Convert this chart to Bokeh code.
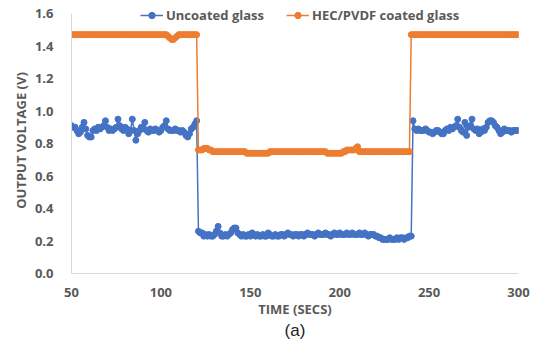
from bokeh.plotting import figure
from bokeh.embed import file_html
from bokeh.resources import INLINE
from bokeh.models import (ColumnDataSource, Legend, LegendItem, Title,
                          PrintfTickFormatter, FixedTicker)

# ---- data (time in seconds, 1 s resolution) ----
time_s = list(range(50, 301))

uncoated = [
    # 50-120
    0.91, 0.90, 0.90, 0.88, 0.86, 0.87, 0.90, 0.93, 0.89, 0.85,
    0.84, 0.84, 0.88, 0.89, 0.88, 0.90, 0.89, 0.90, 0.91, 0.94,
    0.90, 0.88, 0.89, 0.88, 0.89, 0.90, 0.95, 0.91, 0.89, 0.88,
    0.90, 0.89, 0.86, 0.88, 0.95, 0.88, 0.82, 0.86, 0.88, 0.90,
    0.89, 0.93, 0.88, 0.87, 0.89, 0.88, 0.88, 0.89, 0.88, 0.87,
    0.88, 0.90, 0.91, 0.94, 0.89, 0.88, 0.88, 0.88, 0.89, 0.88,
    0.88, 0.87, 0.88, 0.87, 0.85, 0.84, 0.86, 0.89, 0.90, 0.92,
    0.94,
    # 121-240
    0.26, 0.25, 0.25, 0.23, 0.24, 0.23, 0.24, 0.23, 0.23, 0.24,
    0.26, 0.29, 0.25, 0.23, 0.23, 0.24, 0.23, 0.24, 0.25, 0.27,
    0.28, 0.28, 0.25, 0.24, 0.23, 0.24, 0.23, 0.23, 0.24, 0.23,
    0.25, 0.24, 0.23, 0.24, 0.23, 0.23, 0.24, 0.23, 0.23, 0.25,
    0.24, 0.23, 0.23, 0.24, 0.23, 0.23, 0.24, 0.24, 0.23, 0.24,
    0.25, 0.24, 0.24, 0.23, 0.24, 0.24, 0.23, 0.24, 0.24, 0.23,
    0.24, 0.25, 0.24, 0.24, 0.24, 0.23, 0.24, 0.25, 0.24, 0.24,
    0.24, 0.25, 0.24, 0.24, 0.23, 0.24, 0.25, 0.24, 0.24, 0.25,
    0.24, 0.24, 0.24, 0.25, 0.24, 0.24, 0.25, 0.24, 0.24, 0.24,
    0.25, 0.24, 0.24, 0.25, 0.24, 0.23, 0.24, 0.24, 0.24, 0.23,
    0.23, 0.22, 0.22, 0.21, 0.21, 0.21, 0.21, 0.22, 0.21, 0.21,
    0.21, 0.22, 0.21, 0.22, 0.22, 0.21, 0.22, 0.22, 0.23, 0.23,
    # 241-300
    0.94, 0.89, 0.88, 0.89, 0.88, 0.88, 0.88, 0.89, 0.88, 0.87,
    0.87, 0.86, 0.87, 0.88, 0.88, 0.87, 0.86, 0.86, 0.88, 0.89,
    0.88, 0.90, 0.89, 0.90, 0.91, 0.95, 0.90, 0.88, 0.87, 0.93,
    0.85, 0.90, 0.91, 0.95, 0.89, 0.88, 0.89, 0.86, 0.87, 0.89,
    0.88, 0.90, 0.93, 0.94, 0.94, 0.93, 0.91, 0.90, 0.88, 0.86,
    0.87, 0.89, 0.88, 0.88, 0.88, 0.87, 0.88, 0.88, 0.88, 0.88,
]

coated = [
    # 50-120
    1.47, 1.47, 1.47, 1.47, 1.47, 1.47, 1.47, 1.47, 1.47, 1.47,
    1.47, 1.47, 1.47, 1.47, 1.47, 1.47, 1.47, 1.47, 1.47, 1.47,
    1.47, 1.47, 1.47, 1.47, 1.47, 1.47, 1.47, 1.47, 1.47, 1.47,
    1.47, 1.47, 1.47, 1.47, 1.47, 1.47, 1.47, 1.47, 1.47, 1.47,
    1.47, 1.47, 1.47, 1.47, 1.47, 1.47, 1.47, 1.47, 1.47, 1.47,
    1.47, 1.47, 1.47, 1.47, 1.46, 1.45, 1.44, 1.44, 1.45, 1.46,
    1.47, 1.47, 1.47, 1.47, 1.47, 1.47, 1.47, 1.47, 1.47, 1.47,
    1.47,
    # 121-239
    0.76, 0.76, 0.76, 0.77, 0.77, 0.77, 0.76, 0.76, 0.75, 0.75,
    0.75, 0.75, 0.75, 0.75, 0.75, 0.75, 0.75, 0.75, 0.75, 0.75,
    0.75, 0.75, 0.75, 0.75, 0.75, 0.75, 0.75, 0.74, 0.74, 0.74,
    0.74, 0.74, 0.74, 0.74, 0.74, 0.74, 0.74, 0.74, 0.74, 0.74,
    0.75, 0.75, 0.75, 0.75, 0.75, 0.75, 0.75, 0.75, 0.75, 0.75,
    0.75, 0.75, 0.75, 0.75, 0.75, 0.75, 0.75, 0.75, 0.75, 0.75,
    0.75, 0.75, 0.75, 0.75, 0.75, 0.75, 0.75, 0.75, 0.75, 0.75,
    0.75, 0.75, 0.74, 0.74, 0.74, 0.74, 0.74, 0.74, 0.74, 0.74,
    0.74, 0.75, 0.75, 0.76, 0.76, 0.76, 0.76, 0.76, 0.77, 0.78,
    0.75, 0.75, 0.75, 0.75, 0.75, 0.75, 0.75, 0.75, 0.75, 0.75,
    0.75, 0.75, 0.75, 0.75, 0.75, 0.75, 0.75, 0.75, 0.75, 0.75,
    0.75, 0.75, 0.75, 0.75, 0.75, 0.75, 0.75, 0.75, 0.75,
    # 240-300
    1.47, 1.47, 1.47, 1.47, 1.47, 1.47, 1.47, 1.47, 1.47, 1.47,
    1.47, 1.47, 1.47, 1.47, 1.47, 1.47, 1.47, 1.47, 1.47, 1.47,
    1.47, 1.47, 1.47, 1.47, 1.47, 1.47, 1.47, 1.47, 1.47, 1.47,
    1.47, 1.47, 1.47, 1.47, 1.47, 1.47, 1.47, 1.47, 1.47, 1.47,
    1.47, 1.47, 1.47, 1.47, 1.47, 1.47, 1.47, 1.47, 1.47, 1.47,
    1.47, 1.47, 1.47, 1.47, 1.47, 1.47, 1.47, 1.47, 1.47, 1.47,
    1.47,
]

series_names = ["Uncoated glass", "HEC/PVDF coated glass"]
x_ticks = [50, 100, 150, 200, 250, 300]
y_ticks = [0.0, 0.2, 0.4, 0.6, 0.8, 1.0, 1.2, 1.4, 1.6]
caption = "(a)"

BLUE = "#4472C4"
ORANGE = "#ED7D31"
GREY = "#595959"
FONT = "Open Sans"

src = ColumnDataSource(dict(t=time_s, u=uncoated, c=coated))

# frame extends a few pixels above 1.6 so the legend can sit at the top;
# the y axis line itself is bounded to 0..1.6
p = figure(width=538, height=347, x_range=(50, 300), y_range=(0, 1.637),
           output_backend="svg", toolbar_location=None,
           min_border_left=71, min_border_right=20, min_border_top=7,
           min_border_bottom=74, outline_line_color=None,
           background_fill_color="white", border_fill_color="white")

p.xgrid.visible = False
p.ygrid.visible = False

l1 = p.line("t", "u", source=src, line_color=BLUE, line_width=1.5)
s1 = p.scatter("t", "u", source=src, marker="circle", size=6,
               fill_color=BLUE, line_color=BLUE)
l2 = p.line("t", "c", source=src, line_color=ORANGE, line_width=1.5)
s2 = p.scatter("t", "c", source=src, marker="circle", size=6,
               fill_color=ORANGE, line_color=ORANGE)

for ax in (p.xaxis[0], p.yaxis[0]):
    ax.axis_line_color = "#D9D9D9"
    ax.axis_line_width = 1
    ax.major_tick_line_color = None
    ax.minor_tick_line_color = None
    ax.major_label_text_font = FONT
    ax.major_label_text_font_style = "bold"
    ax.major_label_text_font_size = "13px"
    ax.major_label_text_color = GREY
    ax.axis_label_text_font = FONT
    ax.axis_label_text_font_style = "bold"
    ax.axis_label_text_font_size = "13px"
    ax.axis_label_text_color = GREY

p.yaxis.bounds = (0, 1.6)
p.xaxis.ticker = FixedTicker(ticks=x_ticks)
p.yaxis.ticker = FixedTicker(ticks=y_ticks)
p.yaxis.formatter = PrintfTickFormatter(format="%.1f")
p.xaxis.axis_label = "TIME (SECS)"
p.yaxis.axis_label = "OUTPUT VOLTAGE (V)"
p.xaxis.major_label_standoff = 8
p.yaxis.major_label_standoff = 12
p.xaxis.axis_label_standoff = 0
p.yaxis.axis_label_standoff = 2

legend = Legend(items=[LegendItem(label=series_names[0], renderers=[l1, s1]),
                       LegendItem(label=series_names[1], renderers=[l2, s2])],
                orientation="horizontal", location=(69, 249),
                padding=0, margin=0, spacing=22, label_standoff=3,
                glyph_width=23, glyph_height=16,
                label_text_font=FONT, label_text_font_style="bold",
                label_text_font_size="13px", label_text_color=GREY,
                background_fill_alpha=0, border_line_color=None)
p.add_layout(legend)

cap = Title(text=caption, align="center", text_font="Liberation Sans",
            text_font_style="normal", text_font_size="17px",
            text_color="#222222", offset=0, standoff=0, vertical_align="top")
p.add_layout(cap, "below")

open("out.html", "w").write(file_html(p, INLINE))
